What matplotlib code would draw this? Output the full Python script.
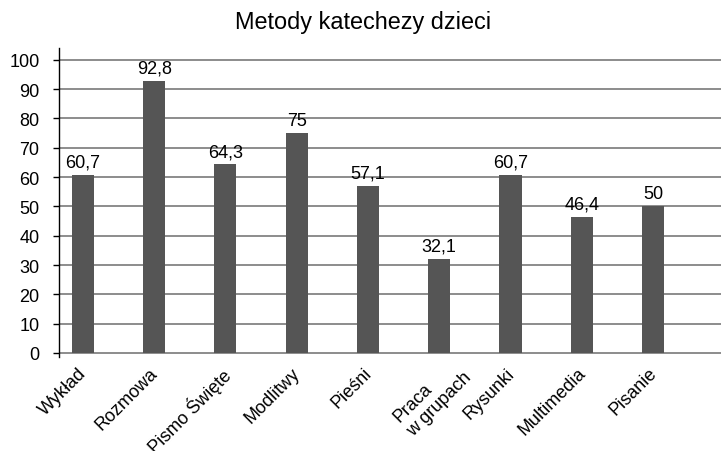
import matplotlib.pyplot as plt
from matplotlib.transforms import ScaledTranslation

plt.rcParams["font.family"] = ["Liberation Sans", "DejaVu Sans"]

categories = ["Wykład", "Rozmowa", "Pismo Święte", "Modlitwy", "Pieśni",
              "Praca\nw grupach", "Rysunki", "Multimedia", "Pisanie"]
values = [60.7, 92.8, 64.3, 75, 57.1, 32.1, 60.7, 46.4, 50]
value_labels = ["60,7", "92,8", "64,3", "75", "57,1", "32,1", "60,7", "46,4", "50"]
y_ticks = list(range(0, 101, 10))

fig = plt.figure(figsize=(7.24, 4.52), dpi=100)
ax = fig.add_axes([0.0815, 0.208, 0.915, 0.6836])

x = list(range(len(categories)))
bars = ax.bar(x, values, width=0.31, color="#555555", zorder=3)

for xi, v, lab in zip(x, values, value_labels):
    ax.annotate(lab, (xi, v), xytext=(0, 3), textcoords="offset points",
                ha="center", va="bottom", fontsize=13, zorder=4)

ax.set_xlim(-0.335, 8.96)
ax.set_ylim(-1.36, 104)
ax.set_yticks(y_ticks)
ax.set_yticklabels([str(t) for t in y_ticks], fontsize=13)
ax.yaxis.grid(True, color="#6e6e6e", linewidth=1.1, zorder=0)
ax.set_axisbelow(True)

for s in ["top", "right", "bottom"]:
    ax.spines[s].set_visible(False)
ax.spines["left"].set_color("black")
ax.spines["left"].set_linewidth(1)
ax.tick_params(axis="y", length=4, width=1, pad=10, colors="black")

ax.set_xticks(x)
ax.set_xticklabels(categories, rotation=45, ha="right", va="top",
                   rotation_mode="anchor", fontsize=13, multialignment="left")
ax.tick_params(axis="x", length=0, pad=6)

# shift labels a bit left, the two-line one sits further right
for i, lbl in enumerate(ax.get_xticklabels()):
    dx, dy = -5, 1
    if "\n" in categories[i]:
        dx, dy = 10, 11
    lbl.set_transform(lbl.get_transform() + ScaledTranslation(dx / 100, dy / 100, fig.dpi_scale_trans))

fig.text(0.502, 0.951, "Metody katechezy dzieci", ha="center", va="center",
         fontsize=16.9)

fig.savefig("out.png", dpi=100)
